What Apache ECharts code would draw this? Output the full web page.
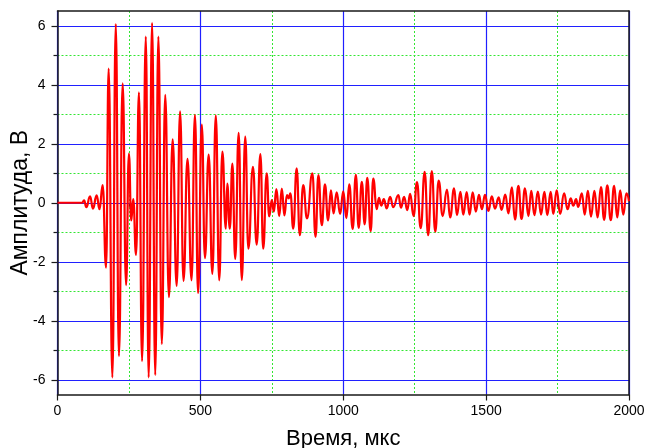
<!DOCTYPE html>
<html>
<head>
<meta charset="utf-8">
<script src="https://cdn.jsdelivr.net/npm/echarts@6/dist/echarts.min.js"></script>
<style>
  html, body { margin: 0; padding: 0; background: #fff; }
  #chart { width: 645px; height: 448px; }
</style>
</head>
<body>
<div id="chart"></div>
<script>
// Signal samples: time (µs) and amplitude (V) at the turning points of the trace
const timeUs = [
  0, 86, 93, 101, 114, 124, 137, 147, 158, 170,
  179, 192, 204, 215, 228, 240, 250, 258, 265, 275,
  285, 296, 309, 319, 331, 342, 353, 365, 377, 390,
  403, 417, 429, 441, 455, 469, 481, 492, 505, 516,
  529, 542, 554, 566, 577, 589, 594, 603, 612, 622,
  634, 645, 657, 668, 684, 697, 710, 720, 732, 741,
  750, 757, 766, 776, 785, 794, 803, 809, 815, 825,
  837, 848, 860, 873, 892, 903, 913, 925, 936, 947,
  957, 966, 977, 989, 1000, 1011, 1021, 1033, 1044, 1054,
  1065, 1075, 1084, 1096, 1105, 1117, 1125, 1133, 1142, 1152,
  1164, 1175, 1193, 1202, 1213, 1224, 1234, 1246, 1258, 1271,
  1285, 1297, 1310, 1322, 1334, 1348, 1363, 1374, 1388, 1398,
  1410, 1420, 1432, 1442, 1453, 1464, 1475, 1485, 1496, 1508,
  1520, 1531, 1544, 1554, 1567, 1578, 1590, 1601, 1613, 1624,
  1636, 1648, 1658, 1669, 1681, 1692, 1704, 1714, 1726, 1735,
  1747, 1759, 1773, 1785, 1796, 1805, 1815, 1822, 1835, 1845,
  1856, 1867, 1879, 1890, 1902, 1913, 1924, 1936, 1948, 1959,
  1969, 1980, 1991, 2000
];
const amplitudeV = [
  0, 0, 0.08, -0.15, 0.22, -0.2, 0.25, -0.22, 0.6, -2.2,
  4.55, -5.92, 6.06, -5.2, 4.05, -2.79, 1.67, -0.6, 0.12, -1.77,
  3.74, -5.37, 5.63, -5.92, 6.1, -5.84, 5.63, -4.79, 3.66, -3.2,
  2.15, -2.82, 3.1, -2.65, 1.49, -2.63, 2.98, -3.06, 2.65, -1.88,
  1.63, -2.41, 2.96, -2.63, 1.73, -0.88, 0.65, -0.88, 1.33, -1.9,
  2.37, -2.62, 2.24, -1.56, 1.22, -1.42, 1.65, -1.56, 1.0, -0.46,
  0.09, -0.3, 0.46, -0.45, 0.48, -0.43, 0.26, 0.15, 0.32, -0.88,
  1.17, -1.1, 0.6, -0.53, 1.0, -1.16, 0.94, -0.76, 0.62, -0.6,
  0.42, -0.36, 0.35, -0.38, 0.39, -0.52, 0.62, -0.89, 0.95, -0.85,
  0.71, -0.73, 0.84, -0.96, 0.82, -0.22, 0.17, -0.1, 0.12, -0.19,
  0.2, -0.15, 0.26, -0.17, 0.2, -0.25, 0.3, -0.45, 0.7, -0.86,
  1.05, -1.1, 1.07, -0.98, 0.75, -0.45, 0.45, -0.5, 0.49, -0.42,
  0.37, -0.4, 0.36, -0.4, 0.35, -0.3, 0.27, -0.22, 0.27, -0.28,
  0.22, -0.2, 0.18, -0.24, 0.28, -0.36, 0.52, -0.57, 0.57, -0.55,
  0.49, -0.45, 0.4, -0.42, 0.38, -0.4, 0.37, -0.42, 0.37, -0.38,
  0.42, -0.38, 0.32, -0.22, 0.15, -0.1, 0.12, -0.14, 0.32, -0.4,
  0.4, -0.47, 0.4, -0.5, 0.53, -0.58, 0.59, -0.59, 0.57, -0.5,
  0.42, -0.4, 0.32, 0.05
];

// Axis tick values
const xMajorTicks = [0, 500, 1000, 1500, 2000];
const xMinorTicks = [250, 750, 1250, 1750];
const yMajorTicks = [-6, -4, -2, 0, 2, 4, 6];
const yMinorTicks = [-5, -3, -1, 1, 3, 5];

const xLabel = 'Время, мкс';
const yLabel = 'Амплитуда, В';

const FONT = 'Liberation Sans, Arial, sans-serif';
const AXIS_COLOR = '#1a1a1a';
const MAJOR_GRID = '#2020ff';
const MINOR_GRID = '#33e633';

const points = timeUs.map((t, i) => [t, amplitudeV[i]]);

const chart = echarts.init(document.getElementById('chart'), null, { renderer: 'canvas' });

const X_MIN = 0, X_MAX = 2000, Y_MIN = -6.5, Y_MAX = 6.5;
const plainNumber = v => String(v);

chart.setOption({
  animation: false,
  backgroundColor: '#ffffff',
  grid: {
    left: 57.5, right: 16, top: 11, bottom: 53.5,
    containLabel: false,
    outerBoundsMode: 'none'
  },
  xAxis: [
    {
      // bottom axis with major grid
      type: 'value', min: X_MIN, max: X_MAX, position: 'bottom',
      name: xLabel, nameLocation: 'middle', nameGap: 33, nameMoveOverlap: false,
      nameTextStyle: { fontFamily: FONT, fontSize: 22, color: '#000' },
      axisLine: { show: true, onZero: false, lineStyle: { color: AXIS_COLOR, width: 1.5 } },
      axisTick: { show: true, inside: false, length: 6, customValues: xMajorTicks,
        lineStyle: { color: AXIS_COLOR, width: 1.2 } },
      axisLabel: { show: true, customValues: xMajorTicks, margin: 10, formatter: plainNumber,
        fontFamily: FONT, fontSize: 14, color: '#000' },
      splitLine: { show: true, lineStyle: { color: MAJOR_GRID, width: 1.2, type: 'solid' } },
      z: 3
    },
    {
      // overlay for minor grid lines and ticks
      type: 'value', min: X_MIN, max: X_MAX, position: 'bottom',
      axisLine: { show: false },
      axisTick: { show: true, inside: false, length: 4, customValues: xMinorTicks,
        lineStyle: { color: AXIS_COLOR, width: 1.2 } },
      axisLabel: { show: false },
      splitLine: { show: true, lineStyle: { color: MINOR_GRID, width: 1, type: [2, 2] } },
      z: 1
    },
    {
      // top frame edge
      type: 'value', min: X_MIN, max: X_MAX, position: 'top',
      axisLine: { show: true, onZero: false, lineStyle: { color: AXIS_COLOR, width: 1.5 } },
      axisTick: { show: false }, axisLabel: { show: false }, splitLine: { show: false },
      z: 3
    }
  ],
  yAxis: [
    {
      type: 'value', min: Y_MIN, max: Y_MAX, position: 'left',
      name: yLabel, nameLocation: 'middle', nameGap: 25, nameRotate: 90, nameMoveOverlap: false,
      nameTextStyle: { fontFamily: FONT, fontSize: 23, color: '#000' },
      axisLine: { show: true, onZero: false, lineStyle: { color: AXIS_COLOR, width: 1.5 } },
      axisTick: { show: true, inside: false, length: 6, customValues: yMajorTicks,
        lineStyle: { color: AXIS_COLOR, width: 1.2 } },
      axisLabel: { show: true, customValues: yMajorTicks, margin: 12, formatter: plainNumber,
        fontFamily: FONT, fontSize: 14, color: '#000' },
      splitLine: { show: true, lineStyle: { color: MAJOR_GRID, width: 1.2, type: 'solid' } },
      z: 3
    },
    {
      type: 'value', min: Y_MIN, max: Y_MAX, position: 'left',
      axisLine: { show: false },
      axisTick: { show: true, inside: false, length: 4, customValues: yMinorTicks,
        lineStyle: { color: AXIS_COLOR, width: 1.2 } },
      axisLabel: { show: false },
      splitLine: { show: true, lineStyle: { color: MINOR_GRID, width: 1, type: [2, 2] } },
      z: 1
    },
    {
      // right frame edge
      type: 'value', min: Y_MIN, max: Y_MAX, position: 'right',
      axisLine: { show: true, onZero: false, lineStyle: { color: AXIS_COLOR, width: 1.5 } },
      axisTick: { show: false }, axisLabel: { show: false }, splitLine: { show: false },
      z: 3
    }
  ],
  series: [
    {
      type: 'line',
      xAxisIndex: 0,
      yAxisIndex: 0,
      data: points,
      showSymbol: false,
      smooth: 0.5,
      smoothMonotone: 'x',
      lineStyle: { color: '#ff0000', width: 2.2 },
      z: 5
    }
  ]
});
</script>
</body>
</html>
